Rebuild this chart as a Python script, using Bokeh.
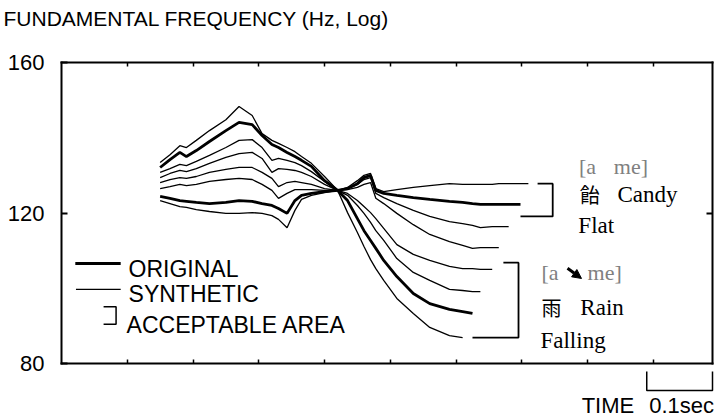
from bokeh.plotting import figure
from bokeh.models import (FixedTicker, LinearAxis, Label, Arrow, NormalHead, Range1d)
from bokeh.embed import file_html
from bokeh.resources import INLINE

# Sampling instants of the F0 contours (ms)
time_ms = [150, 165, 180, 190, 205, 225, 250, 270, 290, 305, 320, 330, 343, 355,
           365, 380, 400, 420, 435, 450, 460, 470, 478, 490, 510, 535, 560, 590,
           610, 625, 637, 655, 665, 680, 698, 710]

# F0 contours (Hz), listed from the highest ending to the lowest ending
flat_beyond = [123.3, 122.5, 121.7, 121.5, 120.9, 120.4, 119.9, 119.9, 120.1, 119.9,
               119.3, 118.3, 116.1, 120.7, 123.6, 124.7, 125.4, 126.0, 126.8, 128.6,
               130.0, 130.5, 126.5, 125.7, 126.2, 126.8, 127.3, 127.8, 127.6, 127.6,
               127.6, 127.6, 127.8, 127.8, 127.8, 127.8]
candy_original = [124.4, 123.9, 123.3, 123.1, 122.8, 122.5, 122.8, 123.3, 123.1, 122.5,
                  122.0, 121.2, 119.9, 123.3, 124.7, 125.2, 125.7, 126.0, 126.5, 127.8,
                  129.4, 130.0, 126.0, 125.2, 124.7, 124.1, 123.6, 123.1, 122.8, 122.5,
                  122.3, 122.3, 122.3, 122.3, 122.3]
step_2 = [126.5, 127.0, 127.6, 127.3, 127.6, 128.4, 128.9, 129.2, 128.9, 127.6,
          126.0, 123.9, 125.2, 126.2, 126.2, 126.2, 126.0, 126.0, 126.5, 127.6,
          128.9, 129.4, 125.2, 124.1, 122.5, 120.7, 119.1, 117.7, 117.2, 116.7,
          116.1, 116.4, 116.4, 116.4]
step_3 = [128.1, 128.9, 129.4, 129.2, 129.7, 130.8, 131.6, 132.1, 132.1, 130.8,
          129.2, 127.0, 128.1, 128.4, 128.1, 127.6, 126.5, 126.0, 126.2, 126.8,
          127.6, 128.1, 123.9, 122.5, 119.9, 116.9, 114.3, 112.4, 111.4, 110.6,
          110.8, 110.8, 110.8]
step_4 = [129.4, 130.5, 131.3, 131.0, 131.8, 133.2, 134.8, 135.8, 136.1, 134.5,
          130.8, 131.8, 131.6, 131.3, 130.8, 129.7, 127.6, 126.0, 125.2, 123.3,
          121.7, 120.1, 118.5, 115.9, 111.6, 109.0, 107.4, 105.8, 105.2, 105.2,
          105.0, 105.0]
step_5 = [130.8, 131.8, 132.9, 132.6, 133.7, 135.3, 137.4, 139.3, 139.5, 137.4,
          134.0, 134.5, 134.0, 133.4, 132.6, 131.0, 128.4, 126.0, 124.7, 122.0,
          119.9, 117.5, 115.3, 112.7, 107.9, 104.2, 102.1, 99.7, 99.4, 99.1, 99.1]
rain_original = [132.1, 134.2, 136.1, 135.0, 136.6, 139.0, 141.9, 144.1, 143.5, 140.6,
                 138.2, 137.4, 136.1, 135.0, 134.0, 132.4, 128.6, 126.0, 123.3, 118.5,
                 115.3, 112.7, 110.6, 107.4, 103.1, 98.6, 95.9, 94.4, 93.8, 93.3]
fall_beyond = [133.4, 135.5, 137.9, 137.4, 139.3, 141.9, 144.8, 148.3, 145.9, 141.1,
               139.3, 138.5, 137.4, 136.3, 135.0, 133.2, 129.7, 126.0, 120.1, 114.8,
               111.1, 107.6, 105.2, 102.1, 97.3, 93.3, 89.6, 87.4, 86.9]

synthetic = [flat_beyond, step_2, step_3, step_4, step_5, fall_beyond]
originals = [candy_original, rain_original]

# Acceptable F0 range at the contour end (Hz): low, high
candy_ok = [119.1, 127.8]
rain_ok = [86.9, 106.8]

y_ticks = [80, 120, 160]
x_ticks = [0.1, 0.2, 0.3, 0.4, 0.5, 0.6, 0.7, 0.8, 0.9]
time_scale = [0.89, 0.99]  # a 0.1 s bar

SANS = "Liberation Sans"
SERIF = "Liberation Serif"
CJK = "Noto Sans CJK JP"

# plot box: 0-0.99 s by 80-160 Hz, drawn 651 x 301 px; margins around it
T0, T1, F0, F1 = 0.0, 0.99, 80, 160
PX_S = 651 / (T1 - T0)
PX_HZ = 301 / (F1 - F0)
M_LEFT, M_RIGHT, M_TOP, M_BOTTOM = 61, 6, 62, 54


def seconds(values):
    return [t / 1000 for t in time_ms[:len(values)]]


p = figure(width=718, height=417, output_backend="svg", toolbar_location=None,
           x_range=Range1d(T0 - M_LEFT / PX_S, T1 + M_RIGHT / PX_S),
           y_range=Range1d(F0 - M_BOTTOM / PX_HZ, F1 + M_TOP / PX_HZ),
           min_border=0)
p.background_fill_color = "white"
p.border_fill_color = "white"
p.outline_line_color = None
p.grid.visible = False


def box_axis(ax, loc, bounds, ticks, tick_in, width=1.5):
    ax.fixed_location = loc
    ax.bounds = bounds
    ax.ticker = FixedTicker(ticks=ticks)
    ax.axis_line_color = "black"
    ax.axis_line_width = 2
    ax.axis_line_cap = "square"
    ax.major_tick_in = tick_in
    ax.major_tick_out = 0
    ax.major_tick_line_width = width
    ax.minor_tick_line_color = None
    ax.major_label_text_font_size = "0px"
    ax.major_label_text_color = None
    ax.major_label_standoff = 0


box_axis(p.xaxis[0], F0, (T0, T1), x_ticks, 4)
top_ax = LinearAxis()
box_axis(top_ax, F1, (T0, T1), x_ticks, 4)
p.add_layout(top_ax, "above")
right_ax = LinearAxis()
box_axis(right_ax, T1, (F0, F1), [120], 6, width=2)
p.add_layout(right_ax, "right")

yax = p.yaxis[0]
box_axis(yax, T0, (F0, F1), y_ticks, 6, width=2)
yax.major_label_text_font = SANS
yax.major_label_text_font_size = "22px"
yax.major_label_text_color = "black"
yax.major_label_standoff = 17

# contours
p.multi_line(xs=[seconds(c) for c in synthetic], ys=synthetic,
             line_color="black", line_width=1.3)
p.multi_line(xs=[seconds(c) for c in originals], ys=originals,
             line_color="black", line_width=2.8)

# acceptable-area brackets at the end of each original contour
bx, by = [], []
for orig, ok, reach in ((candy_original, candy_ok, 0.049), (rain_original, rain_ok, 0.070)):
    t_end = seconds(orig)[-1]
    edge = t_end + reach
    bx.append([edge - 0.023, edge, edge, t_end])
    by.append([ok[1], ok[1], ok[0], ok[0]])
p.multi_line(xs=bx, ys=by, line_color="black", line_width=1.8)


def label(x, y, text, font=SANS, size="23px", color="black", align="left"):
    p.add_layout(Label(x=x, y=y, text=text, text_font=font, text_font_size=size,
                       text_color=color, text_baseline="middle", text_align=align))


# legend
p.segment(x0=[0.021], y0=[106.6], x1=[0.090], y1=[106.6], line_color="black", line_width=3)
p.segment(x0=[0.022], y0=[99.7], x1=[0.090], y1=[99.7], line_color="black", line_width=1.3)
p.multi_line(xs=[[0.064, 0.083, 0.083, 0.064]], ys=[[95.1, 95.1, 90.4, 90.4]],
             line_color="black", line_width=1.5)
label(0.102, 105.2, "ORIGINAL")
label(0.102, 98.6, "SYNTHETIC")
label(0.099, 90.1, "ACCEPTABLE AREA")

# word annotations
label(0.787, 132.4, "[a", font=SERIF, size="22px", color="#808080")
label(0.840, 132.4, "me]", font=SERIF, size="22px", color="#808080")
label(0.788, 124.9, "飴", font=CJK, size="20px")
label(0.8455, 124.9, "Candy", font=SERIF)
label(0.786, 116.7, "Flat", font=SERIF)
label(0.730, 104.2, "[a", font=SERIF, size="22px", color="#808080")
label(0.800, 104.2, "me]", font=SERIF, size="22px", color="#808080")
label(0.730, 94.9, "雨", font=CJK, size="20px")
label(0.789, 94.9, "Rain", font=SERIF)
label(0.7284, 86.1, "Falling", font=SERIF)
p.add_layout(Arrow(end=NormalHead(size=9, fill_color="black", line_color="black"),
                   x_start=0.7695, y_start=105.3, x_end=0.7908, y_end=102.6,
                   line_width=3, line_color="black"))

# heading
label(T0 - 58 / PX_S, F1 + 44 / PX_HZ, "FUNDAMENTAL FREQUENCY (Hz, Log)", size="21px")

# 0.1 s time scale below the box
bar_top, bar_base = F0 - 8 / PX_HZ, F0 - 27 / PX_HZ
p.line(x=[time_scale[0], time_scale[0], time_scale[1], time_scale[1]],
       y=[bar_top, bar_base, bar_base, bar_top], line_color="black", line_width=1.5)
label(time_scale[0] - 0.099, F0 - 42 / PX_HZ, "TIME", size="22px")
label(time_scale[1] + 1.5 / PX_S, F0 - 42 / PX_HZ, "0.1sec", size="22px", align="right")

open("out.html", "w").write(file_html(p, INLINE))
